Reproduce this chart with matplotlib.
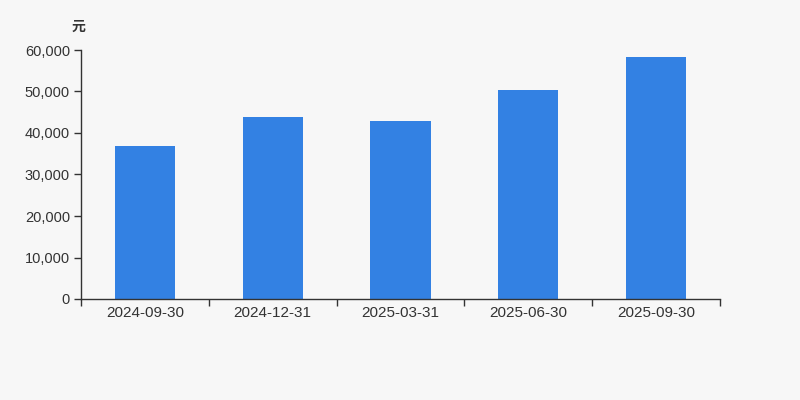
import matplotlib
matplotlib.use("Agg")
import matplotlib.pyplot as plt
from matplotlib.ticker import FuncFormatter, MultipleLocator

plt.rcParams['font.family'] = ['Liberation Sans', 'Noto Sans CJK SC', 'DejaVu Sans']

categories = ["2024-09-30", "2024-12-31", "2025-03-31", "2025-06-30", "2025-09-30"]
values = [36900, 43750, 42850, 50250, 58200]
unit_label = "元"

bg = "#f7f7f7"
bar_color = "#3381e3"
text_color = "#333333"

fig = plt.figure(figsize=(8, 4), dpi=100, facecolor=bg)
ax = fig.add_axes([81/800, 1 - 299/400, (720-81)/800, (299-50)/400], facecolor=bg)

x = list(range(len(categories)))
ax.bar(x, values, width=0.47, color=bar_color, zorder=2)

ax.set_xlim(-0.5, len(categories) - 0.5)
ax.set_ylim(0, 60000)
ax.yaxis.set_major_locator(MultipleLocator(10000))
ax.yaxis.set_major_formatter(FuncFormatter(lambda v, p: f"{int(v):,}"))

ax.set_xticks(x)
ax.set_xticklabels(categories)
ax.set_xticks([i - 0.5 for i in range(len(categories) + 1)], minor=True)
ax.tick_params(axis='x', which='major', length=0, pad=5, labelsize=11, labelcolor=text_color)
ax.tick_params(axis='x', which='minor', length=5, color=text_color, width=1)
ax.tick_params(axis='y', which='major', length=5, color=text_color, width=1, pad=3,
               labelsize=10.5, labelcolor=text_color)

for s in ['top', 'right']:
    ax.spines[s].set_visible(False)
for s in ['left', 'bottom']:
    ax.spines[s].set_color(text_color)
    ax.spines[s].set_linewidth(1)

fig.text(79/800, 1 - 27/400, unit_label, ha='center', va='center', fontsize=10,
         fontweight='bold', color=text_color, family=['Noto Sans CJK SC', 'DejaVu Sans'])

fig.savefig("out.png", dpi=100, facecolor=bg)
